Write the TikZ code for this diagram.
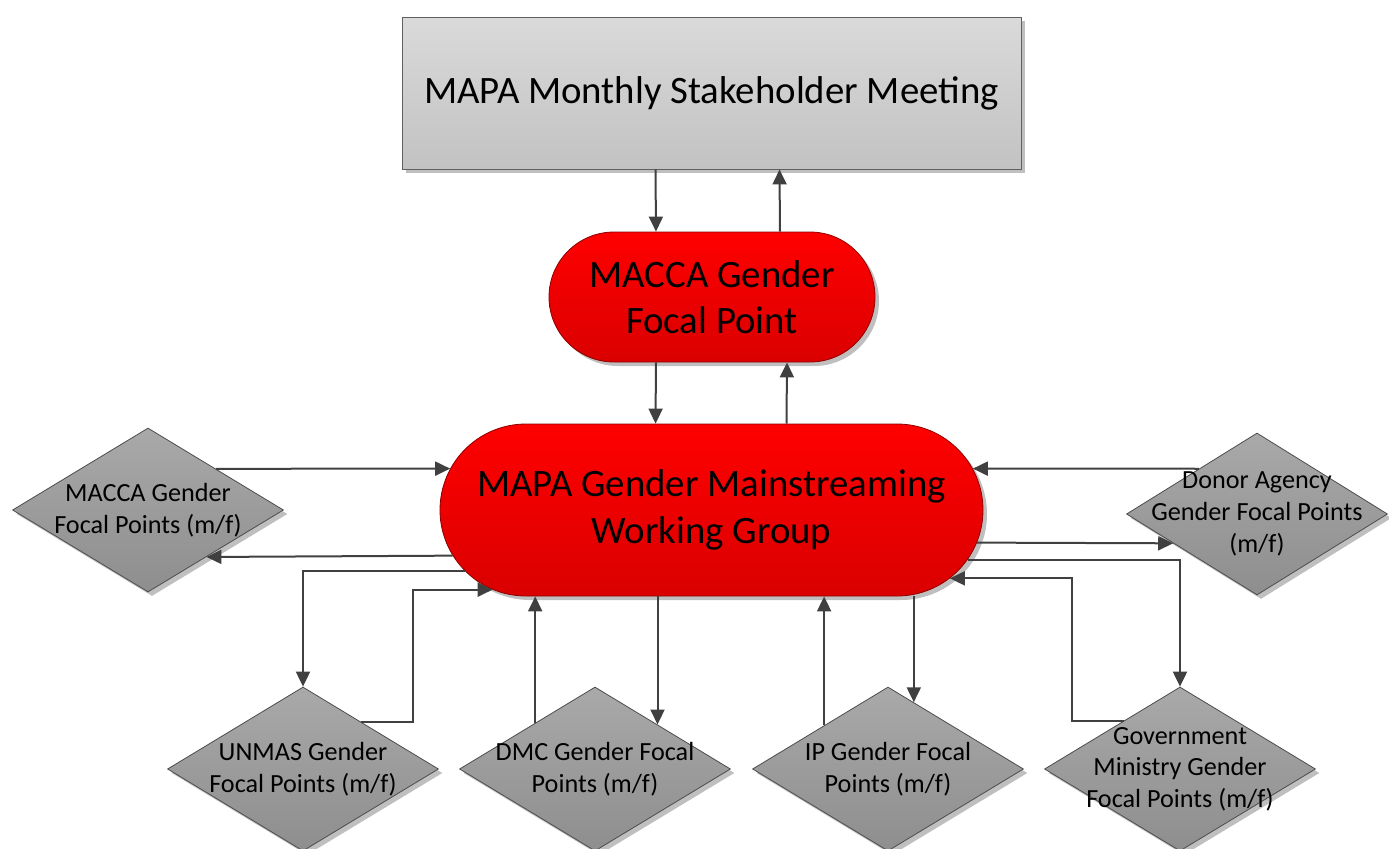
\documentclass[tikz,border=0pt]{standalone}
\usepackage{fontspec}
\setmainfont{Carlito}
\usetikzlibrary{shapes.geometric,shapes.misc,shadows,calc,arrows.meta}

\definecolor{linkgray}{HTML}{404040}
\definecolor{boxtop}{HTML}{DADADA}
\definecolor{boxbot}{HTML}{C2C2C2}
\definecolor{redtop}{HTML}{FF0000}
\definecolor{redbot}{HTML}{DA0000}
\definecolor{dmdtop}{HTML}{A9A9A9}
\definecolor{dmdbot}{HTML}{8E8E8E}

\tikzset{
  softshadow/.style={drop shadow={shadow xshift=2pt, shadow yshift=-2pt, opacity=0.25, fill=black}},
  meetingbox/.style={rectangle, draw=gray!75!black, top color=boxtop, bottom color=boxbot,
    minimum width=309.5pt, minimum height=76pt, inner sep=0pt, softshadow,
    font=\fontsize{19.4}{23.2}\selectfont},
  stadium/.style={rounded rectangle, draw=red!55!black, line width=0.4pt,
    top color=redtop, bottom color=redbot, inner sep=0pt, softshadow},
  fpdiamond/.style={diamond, draw=gray!60!black, line width=0.4pt,
    top color=dmdtop, bottom color=dmdbot, minimum width=135.5pt, minimum height=82pt,
    inner sep=0pt, softshadow},
  bigtext/.style={align=center, font=\fontsize{19.4}{23.2}\selectfont},
  smalltext/.style={align=center, font=\fontsize{13.1}{15.8}\selectfont},
  link/.style={draw=linkgray, line width=1pt, -{Triangle[length=7.5pt,width=7pt]}}
}

\begin{document}
\begin{tikzpicture}[x=0.5pt,y=-0.5pt]
	\useasboundingbox (0,0) rectangle (1389,848);

	%% the meeting and the two red groups
	\node[meetingbox] (meeting) at (711.5,93) {MAPA Monthly Stakeholder Meeting};
	\node[stadium, minimum width=163pt, minimum height=65pt] (fp) at (712,297) {};
	\node[bigtext] (fp-t) at (fp) {MACCA Gender\\Focal Point};
	\node[stadium, minimum width=271.5pt, minimum height=86pt] (gmwg) at (711.5,510) {};
	\node[bigtext] (gmwg-t) at (gmwg) {MAPA Gender Mainstreaming\\Working Group};

	%% the focal point diamonds
	\node[fpdiamond] (macca) at (148,510) {};
	\node[smalltext] (macca-t) at (macca) {MACCA Gender\\Focal Points (m/f)};
	\node[fpdiamond] (unmas) at (303,769) {};
	\node[smalltext] (unmas-t) at (unmas) {UNMAS Gender\\Focal Points (m/f)};
	\node[fpdiamond] (dmc) at (595,769) {};
	\node[smalltext] (dmc-t) at (dmc) {DMC Gender Focal\\Points (m/f)};
	\node[fpdiamond] (ip) at (888,769) {};
	\node[smalltext] (ip-t) at (ip) {IP Gender Focal\\Points (m/f)};
	\node[fpdiamond] (gov) at (1180,769) {};
	\node[smalltext] (gov-t) at (gov) {Government\\Ministry Gender\\Focal Points (m/f)};
	\node[fpdiamond, minimum width=130.5pt, minimum height=81pt] (donor) at (1257,514) {};
	\node[smalltext] (donor-t) at (donor) {Donor Agency\\Gender Focal Points\\(m/f)};

	%% points on the diamond edges
	\coordinate (macca-in) at ($(macca.east)!0.57!(macca.south)$);
	\coordinate (unmas-up) at ($(unmas.north)!0.43!(unmas.east)$);
	\coordinate (dmc-up) at ($(dmc.north)!0.44!(dmc.west)$);
	\coordinate (dmc-in) at ($(dmc.north)!0.46!(dmc.east)$);
	\coordinate (ip-up) at ($(ip.north)!0.47!(ip.west)$);
	\coordinate (ip-in) at ($(ip.north)!0.19!(ip.east)$);
	\coordinate (donor-up) at ($(donor.west)!0.556!(donor.north)$);
	\coordinate (donor-in) at ($(donor.west)!0.36!(donor.south)$);
	\coordinate (gov-up) at ($(gov.north)!0.415!(gov.west)$);

	%% up and down the chain
	\draw[link] ([xshift=-28pt]meeting.south) -- ([xshift=-28pt]fp.north);
	\draw[link] ([xshift=34pt]fp.north) -- ([xshift=34pt]meeting.south);
	\draw[link] ([xshift=-28pt]fp.south) -- ([xshift=-28pt]gmwg.north);
	\draw[link] ([xshift=37.5pt]gmwg.north) -- ([xshift=37.5pt]fp.south);

	%% left side
	\draw[link] (macca.north east) -- (gmwg.171);
	\draw[link] (gmwg.190.5) -- (macca-in);
	\draw[link] (gmwg.194.4) -| (unmas.north);
	\draw[link] (unmas-up) -- ++(52,0) |- (gmwg.200);

	%% bottom
	\draw[link] (dmc-up) -- (dmc-up |- gmwg.south);
	\draw[link] (dmc-in |- gmwg.south) -- (dmc-in);
	\draw[link] (ip-up) -- (ip-up |- gmwg.south);
	\draw[link] (ip-in |- gmwg.south) -- (ip-in);

	%% right side
	\draw[link] (donor-up) -- (gmwg.9);
	\draw[link] (gmwg.-7) -- (donor-in);
	\draw[link] (gmwg.-11) -| (gov.north);
	\draw[link] (gov-up) -- ++(-52,0) |- (gmwg.-16.5);
\end{tikzpicture}
\end{document}
